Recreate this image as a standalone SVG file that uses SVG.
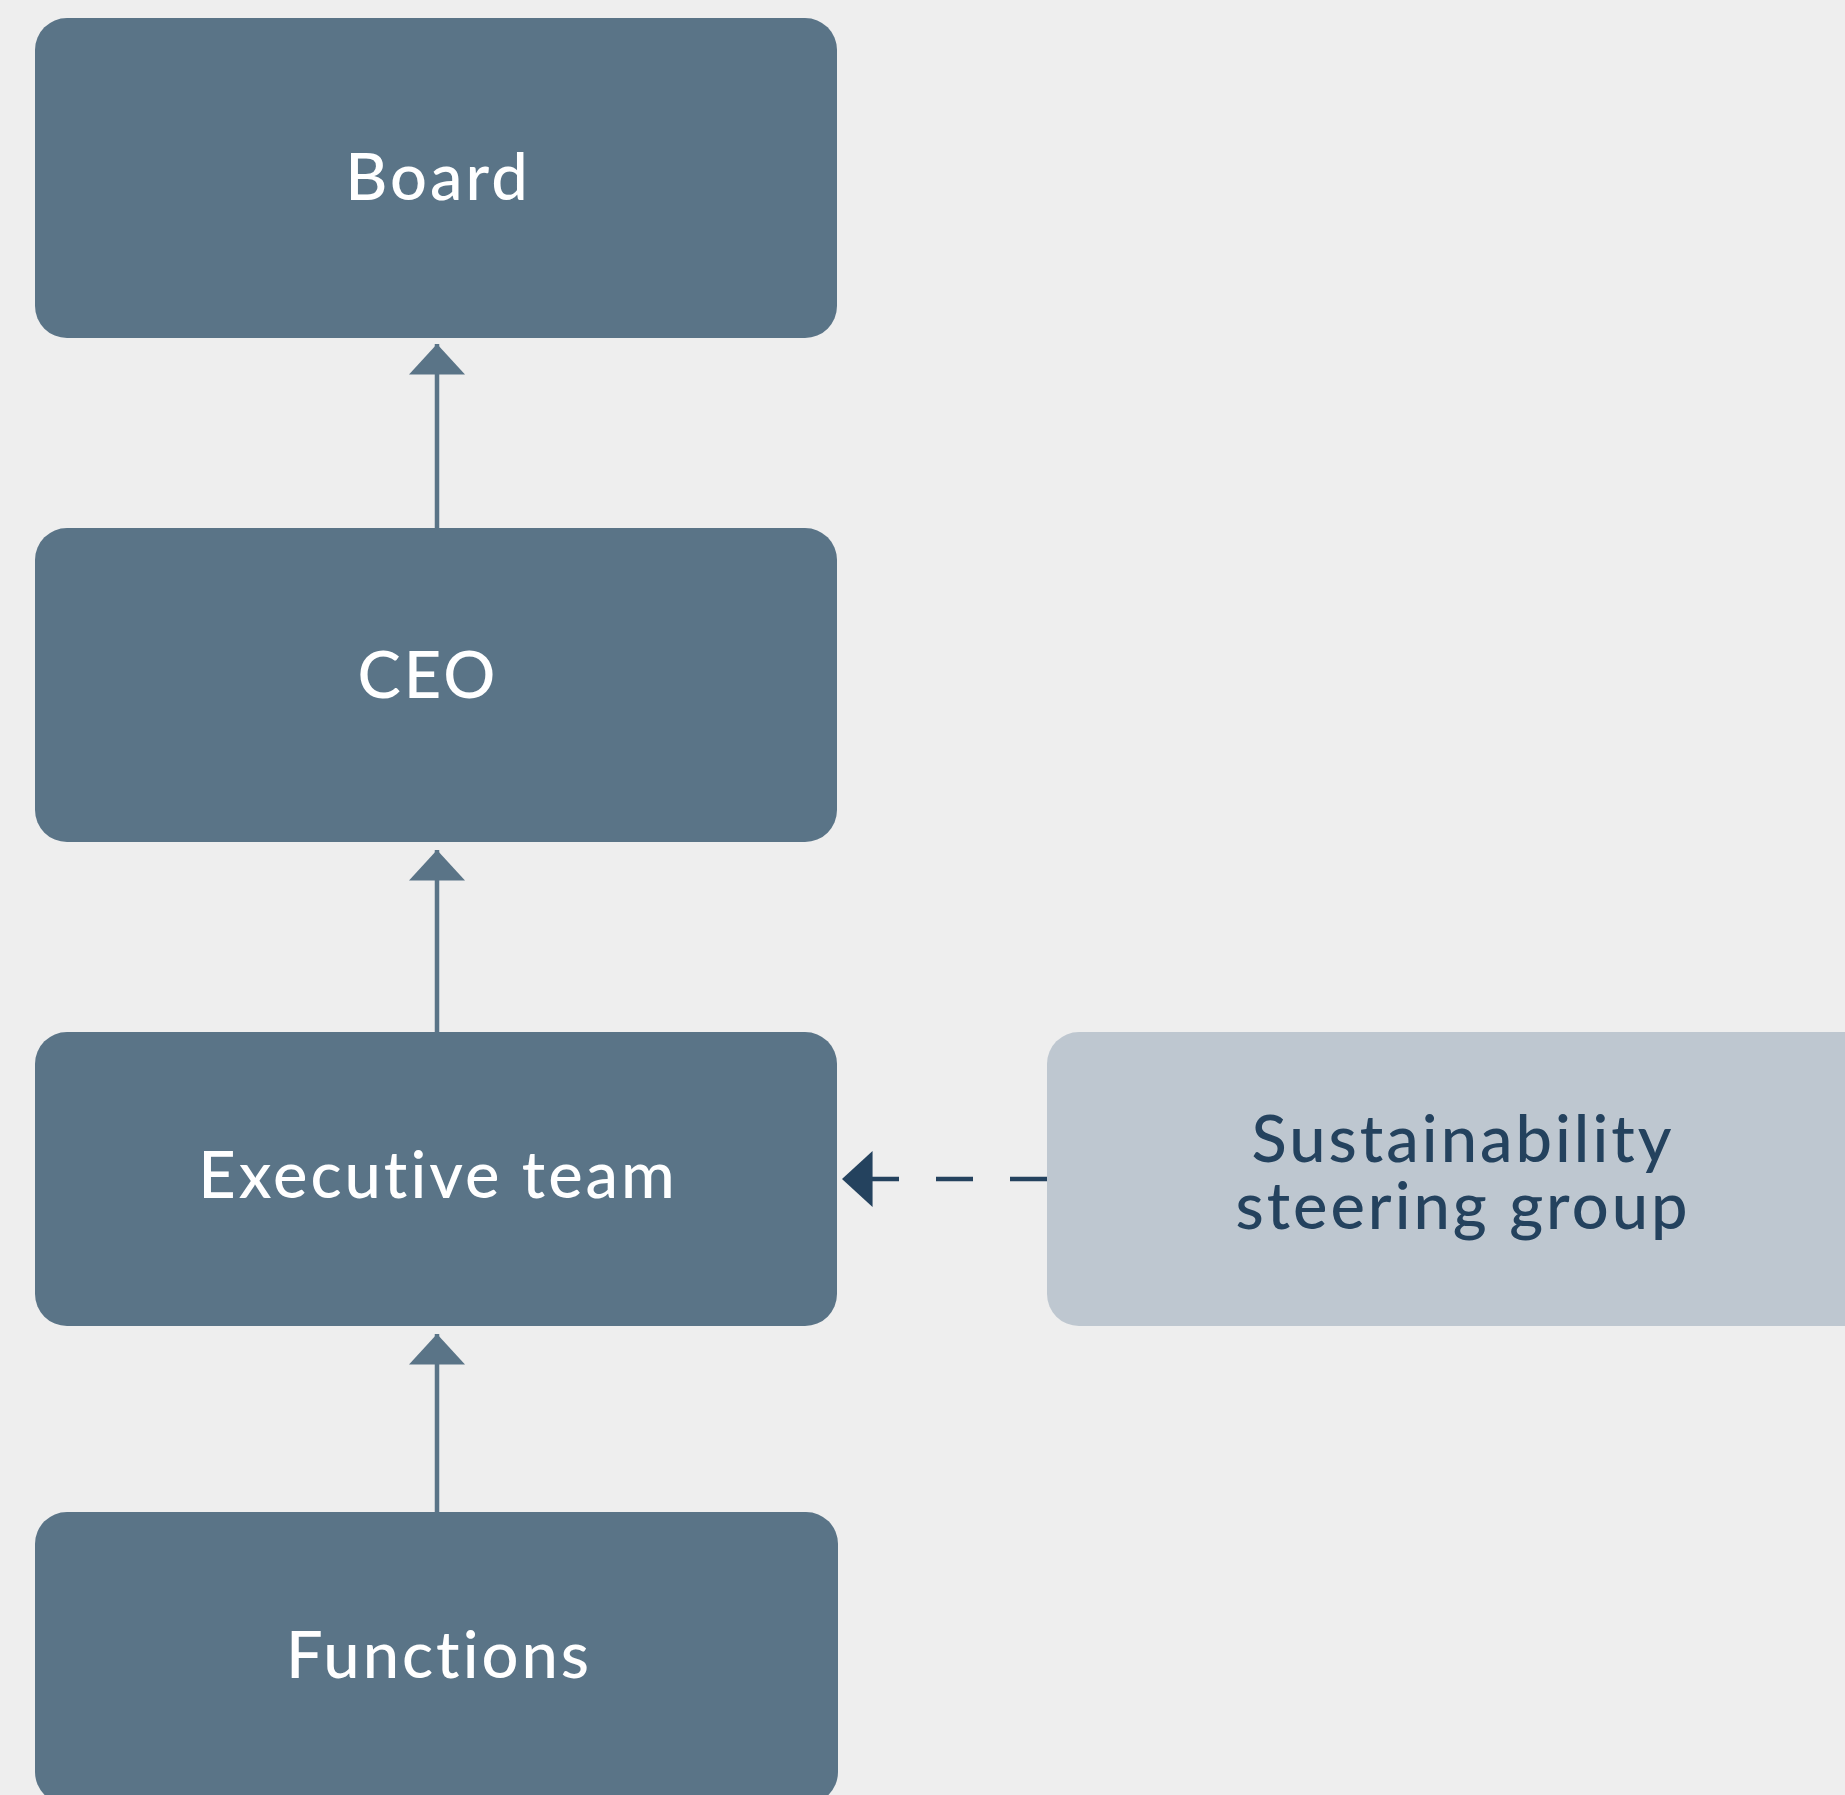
<svg xmlns="http://www.w3.org/2000/svg" width="1845" height="1795" viewBox="0 0 1845 1795">
  <defs>
    <style>
      .box { fill: #5a7487; }
      .box-light { fill: #bec7d0; }
      .lbl { font-family: Lato, "Open Sans", "Liberation Sans", sans-serif; font-size: 65px; font-weight: 500; text-anchor: middle; fill: #ffffff; letter-spacing: 3px; font-variant-ligatures: none; }
      .lbl-dark { fill: #24425e; }
      .conn { stroke: #5a7487; stroke-width: 4.5; fill: none; }
      .conn-dash { stroke: #24425e; stroke-width: 4.5; fill: none; stroke-dasharray: 37 37; }
    </style>
    <marker id="arrow" markerUnits="userSpaceOnUse" markerWidth="31" markerHeight="56" viewBox="0 0 30 55" refX="30" refY="27.5" orient="auto">
      <path d="M0,0 L30,27.5 L0,55 Z" fill="#5a7487"/>
    </marker>
    <marker id="arrow-dark" markerUnits="userSpaceOnUse" markerWidth="31" markerHeight="56" viewBox="0 0 30 55" refX="30" refY="27.5" orient="auto">
      <path d="M0,0 L30,27.5 L0,55 Z" fill="#24425e"/>
    </marker>
  </defs>
  <rect x="0" y="0" width="1845" height="1795" fill="#eeeeee"/>

  <g id="connectors">
    <path class="conn" d="M437,528 L437,344" marker-end="url(#arrow)"/>
    <path class="conn" d="M437,1032 L437,850" marker-end="url(#arrow)"/>
    <path class="conn" d="M437,1512 L437,1334" marker-end="url(#arrow)"/>
    <path class="conn-dash" d="M1047,1179 L842,1179" marker-end="url(#arrow-dark)"/>
  </g>

  <g id="node-board">
    <rect class="box" x="35" y="18" width="802" height="320" rx="32" ry="32"/>
    <text class="lbl" x="438" y="200">Board</text>
  </g>
  <g id="node-ceo">
    <rect class="box" x="35" y="528" width="802" height="314" rx="32" ry="32"/>
    <text class="lbl" x="428" y="698">CEO</text>
  </g>
  <g id="node-executive">
    <rect class="box" x="35" y="1032" width="802" height="294" rx="32" ry="32"/>
    <text class="lbl" x="438" y="1198">Executive team</text>
  </g>
  <g id="node-sustainability">
    <rect class="box-light" x="1047" y="1032" width="830" height="294" rx="32" ry="32"/>
    <text class="lbl lbl-dark" x="1463" y="1162">Sustainability</text>
    <text class="lbl lbl-dark" x="1463" y="1229">steering group</text>
  </g>
  <g id="node-functions">
    <rect class="box" x="35" y="1512" width="803" height="292" rx="32" ry="32"/>
    <text class="lbl" x="439" y="1678">Functions</text>
  </g>
</svg>
